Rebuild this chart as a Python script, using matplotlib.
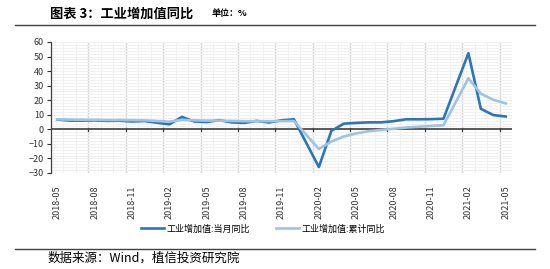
import numpy as np
import pandas as pd
import matplotlib.pyplot as plt
from matplotlib.lines import Line2D
from matplotlib.ticker import MultipleLocator, FixedLocator

plt.rcParams['font.family'] = ['Noto Sans CJK SC', 'DejaVu Sans']

# monthly categories, 2018-05 .. 2021-05 (January is blank: Jan-Feb reported together)
months = list(pd.period_range('2018-05', '2021-05', freq='M').strftime('%Y-%m'))
monthly_yoy = [6.8, 6.0, 6.0, 6.1, 5.8, 5.9, 5.4, 5.7,
               None, 3.4, 8.5, 5.4, 5.0, 6.3, 4.8, 4.4, 5.8, 4.7, 6.2, 6.9,
               None, -25.9, -1.1, 3.9, 4.4, 4.8, 4.8, 5.6, 6.9, 6.9, 7.0, 7.3,
               None, 52.3, 14.1, 9.8, 8.8]
cumulative_yoy = [6.9, 6.7, 6.6, 6.5, 6.4, 6.4, 6.3, 6.2,
                  None, 5.3, 6.5, 6.2, 6.0, 6.0, 5.8, 5.6, 5.6, 5.6, 5.6, 5.7,
                  None, -13.5, -8.4, -4.9, -2.8, -1.3, -0.4, 0.4, 1.2, 1.8, 2.3, 2.8,
                  None, 35.1, 24.5, 20.3, 17.8]
series_names = ['工业增加值:当月同比', '工业增加值:累计同比']
series_colors = ['#2E75B6', '#9DC3E6']

fig = plt.figure(figsize=(5.5, 2.69), dpi=100)
ax = fig.add_axes([51 / 550, 1 - 173 / 269, 461 / 550, 131 / 269])

x = np.arange(len(months))
n = len(months)

# grid: light line per month, darker every 3 months, faint horizontal lines
for b in np.arange(-0.5, n, 1.0):
    ax.axvline(b, color='#f0f0f0', lw=0.8, zorder=0)
for b in np.arange(2.5, n, 3.0):
    ax.axvline(b, color='#d9d9d9', lw=1.0, zorder=0)
for yv in np.arange(-30, 61, 2):
    ax.axhline(yv, color='#f0f0f0', lw=0.7, zorder=0)
ax.axhline(0, color='#595959', lw=1.4, zorder=1)
for b in np.arange(2.5, n, 3.0):
    ax.plot([b, b], [-0.9, 0.9], color='#404040', lw=0.9, zorder=1)

for vals, name, col in zip([monthly_yoy, cumulative_yoy], series_names, series_colors):
    y = np.array([np.nan if v is None else v for v in vals], dtype=float)
    ok = ~np.isnan(y)
    ax.plot(x[ok], y[ok], color=col, lw=1.9, label=name, zorder=3,
            solid_joinstyle='round')

ax.set_xlim(-0.5, n - 0.5)
ax.set_ylim(-30, 60)
ax.yaxis.set_major_locator(MultipleLocator(10))
ax.xaxis.set_major_locator(FixedLocator(x[::3]))
ax.set_xticklabels(months[::3], rotation=90, fontsize=6.5, color='#333333')
ax.tick_params(axis='x', length=0, pad=9)
ax.tick_params(axis='y', labelsize=6.5, colors='#333333', length=3, width=0.8,
               direction='out', pad=2)
for s in ['top', 'right', 'bottom']:
    ax.spines[s].set_visible(False)
ax.spines['left'].set_color('#404040')
ax.spines['left'].set_linewidth(0.9)

leg = fig.legend(loc='center', bbox_to_anchor=(0.478, 1 - 229 / 269), ncol=2,
                 frameon=False, fontsize=6.5, handlelength=2.6, columnspacing=2.8,
                 handletextpad=0.3)

# header and footer
fig.text(50 / 550, 1 - 14 / 269, '图表 3：工业增加值同比', fontsize=9.5,
         fontweight='bold', va='center', ha='left')
fig.text(212 / 550, 1 - 14 / 269, '单位：%', fontsize=6.5, fontweight='bold',
         va='center', ha='left')
fig.add_artist(Line2D([15 / 550, 535 / 550], [1 - 25 / 269] * 2, color='#404040', lw=1.0))
fig.add_artist(Line2D([15 / 550, 535 / 550], [1 - 249 / 269] * 2, color='#404040', lw=1.0))
fig.text(48 / 550, 1 - 258 / 269, '数据来源：Wind，植信投资研究院', fontsize=9,
         va='center', ha='left')

fig.savefig('out.png', dpi=100)
